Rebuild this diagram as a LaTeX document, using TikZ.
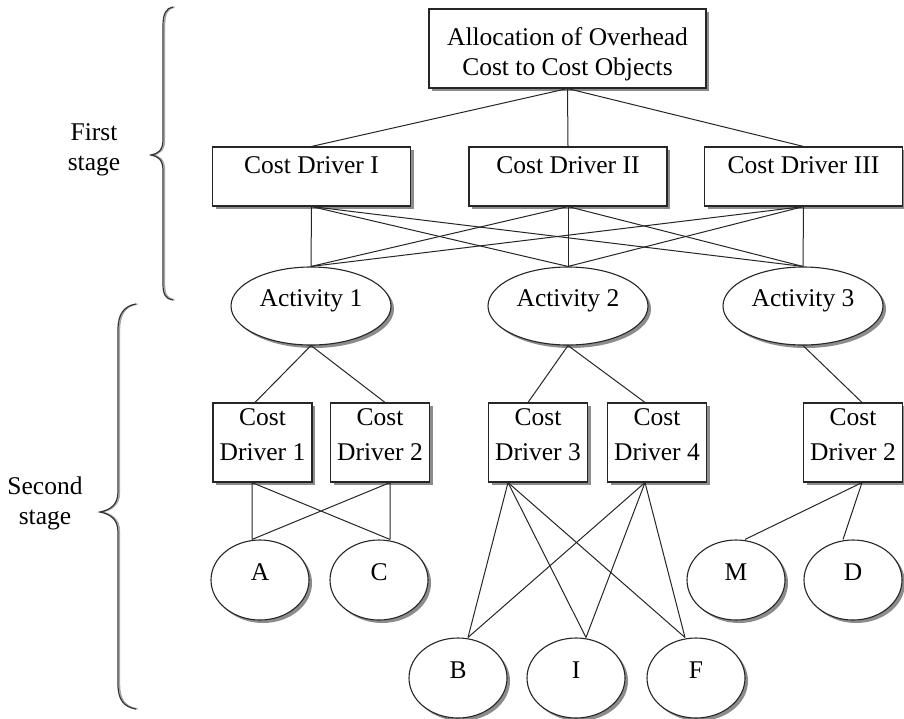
\documentclass[tikz,border=0pt]{standalone}
\usepackage{fontspec}
\setmainfont{Liberation Serif}
\usetikzlibrary{shapes.geometric,shadows}

\begin{document}
\begin{tikzpicture}[x=1pt,y=-1pt,
  every node/.style={font=\fontsize{25.5}{30}\selectfont, inner sep=0pt},
  shade3/.style={drop shadow={shadow xshift=3pt,shadow yshift=-3pt,fill=black!45,opacity=1}},
  cbox/.style={rectangle, draw=black!85, line width=1.1pt, fill=white, shade3},
  bigbox/.style={cbox, minimum width=198pt, text height=26pt, text depth=33pt},
  smallbox/.style={cbox, minimum width=99pt, text height=22pt, text depth=57pt},
  oval/.style={ellipse, draw=black!85, line width=1.1pt, fill=white, shade3,
               text height=10pt, text depth=10pt},
  actoval/.style={oval, minimum width=160pt, minimum height=78pt},
  objoval/.style={oval, minimum width=98pt, minimum height=80pt},
  link/.style={draw=black!85, line width=1pt},
  brace/.style={draw=black!80, line width=1.2pt},
  braceshade/.style={draw=black!35, line width=1.4pt}
]
\newcommand{\twolines}[3][0pt]{\begin{tabular}[t]{@{}c@{}}#2\\[#1]#3\end{tabular}}

% canvas
\fill[white] (0,0) rectangle (904,718);
\useasboundingbox (0,0) rectangle (904,718);

% stage braces, each with a light shadow stroke beside it
\foreach \sty/\dx in {braceshade/1.5pt, brace/0pt}{
  \begin{scope}[xshift=\dx]
  \draw[\sty] (173,7) .. controls (166,8) and (163,14) .. (163,26) -- (163,140)
    .. controls (163,150) and (158,154) .. (151,155) .. controls (158,156) and (163,160) .. (163,170)
    -- (163,284) .. controls (163,295) and (166,299) .. (173,300);
  \draw[\sty] (136,304) .. controls (124,306) and (118,314) .. (118,330) -- (118,492)
    .. controls (118,505) and (110,510) .. (100,512) .. controls (110,514) and (118,519) .. (118,532)
    -- (118,684) .. controls (118,700) and (124,707) .. (136,709);
  \end{scope}
}

\node[anchor=base] (first) at (94,140) {\twolines{First}{stage}};
\node[anchor=base] (second) at (45,494) {\twolines{Second}{stage}};

% first stage
\node[cbox, minimum width=277pt, text height=36pt, text depth=43pt] (top) at (567.5,48.5)
  {\twolines{Allocation of Overhead}{Cost to Cost Objects}};

\node[bigbox] (cdI)   at (311.5,176.5) {Cost Driver I};
\node[bigbox] (cdII)  at (568,176.5)   {Cost Driver II};
\node[bigbox] (cdIII) at (803.5,176.5) {Cost Driver III};

\node[actoval] (act1) at (311,306) {Activity 1};
\node[actoval] (act2) at (568,306) {Activity 2};
\node[actoval] (act3) at (803,306) {Activity 3};

% second stage
\node[smallbox] (cd1)  at (262.5,442.5) {\twolines[5pt]{Cost}{Driver 1}};
\node[smallbox] (cd2)  at (380,442.5)   {\twolines[5pt]{Cost}{Driver 2}};
\node[smallbox] (cd3)  at (538,442.5)   {\twolines[5pt]{Cost}{Driver 3}};
\node[smallbox] (cd4)  at (657,442.5)   {\twolines[5pt]{Cost}{Driver 4}};
\node[smallbox] (cd2b) at (853,442.5)   {\twolines[5pt]{Cost}{Driver 2}};

\node[objoval] (A) at (260,580) {A};
\node[objoval] (C) at (379,580) {C};
\node[objoval] (M) at (736,580) {M};
\node[objoval] (D) at (853,580) {D};
\node[objoval] (B) at (458,678) {B};
\node[objoval] (I) at (576,678) {I};
\node[objoval] (F) at (696,678) {F};

% overhead to first-stage drivers
\path[link] (top.south) -- (cdI.north)
            (top.south) -- (cdII.north)
            (top.south) -- (cdIII.north);

% every first-stage driver to every activity
\foreach \d in {cdI,cdII,cdIII}
  \foreach \a in {act1,act2,act3}
    \path[link] (\d.south) -- (\a.north);

% activities to second-stage drivers
\path[link] (act1.south) -- ([xshift=-7.5pt]cd1.north)
            (act1.south) -- ([xshift=5pt]cd2.north)
            (act2.south) -- ([xshift=-10pt]cd3.north)
            (act2.south) -- ([xshift=-12pt]cd4.north)
            (act3.south) -- ([xshift=9pt]cd2b.north);

% second-stage drivers to cost objects
\path[link] ([xshift=-10.5pt]cd1.south) -- ([xshift=-8pt]A.north)
            ([xshift=-10.5pt]cd1.south) -- ([xshift=11pt]C.north)
            ([xshift=10pt]cd2.south) -- ([xshift=-8pt]A.north)
            ([xshift=10pt]cd2.south) -- ([xshift=11pt]C.north);
\foreach \o/\s in {B/10pt,I/10pt,F/-11pt}{
  \path[link] ([xshift=-30pt]cd3.south) -- ([xshift=\s]\o.north);
  \path[link] ([xshift=-12pt]cd4.south) -- ([xshift=\s]\o.north);
}
\path[link] ([xshift=9pt]cd2b.south) -- ([xshift=9pt]M.north)
            ([xshift=9pt]cd2b.south) -- ([xshift=-10pt]D.north);
\end{tikzpicture}
\end{document}
